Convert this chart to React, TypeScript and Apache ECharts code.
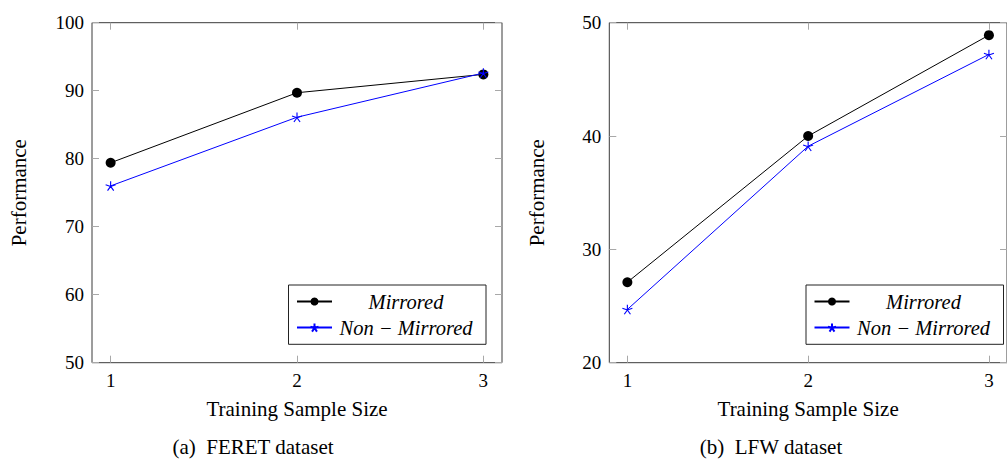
import React, { useEffect, useRef } from "react";
import * as echarts from "echarts";

const xTicks = [1, 2, 3];
const feretMirrored = [79.4, 89.7, 92.4];
const feretNonMirrored = [76.0, 86.1, 92.6];
const lfwMirrored = [27.1, 40.0, 48.9];
const lfwNonMirrored = [24.7, 39.1, 47.2];
const seriesNames = ["Mirrored", "Non \u2212 Mirrored"];
const captions = ["(a)  FERET dataset", "(b)  LFW dataset"];
const xName = "Training Sample Size";
const yName = "Performance";

const FONT = "Liberation Serif";
const STAR = "path://M0 0L0 -5M0 0L4.755 -1.545M0 0L2.939 4.045M0 0L-2.939 4.045M0 0L-4.755 -1.545";

export default function App() {
  const ref = useRef<HTMLDivElement>(null);
  useEffect(() => {
    if (!ref.current) return;
    const chart = echarts.init(ref.current, undefined, { renderer: "svg" });
    const toPts = (vals: number[]) => xTicks.map((x, i) => [x, vals[i]]);
    const grids = [
      { left: 92, top: 22.7, width: 410, height: 340 },
      { left: 609.3, top: 22.7, width: 410, height: 340 },
    ].map((g) => ({ ...g, show: true, borderColor: "#3a3a3a", borderWidth: 1, backgroundColor: "transparent" }));

    const tick = { show: true, inside: true, length: 7, customValues: xTicks, lineStyle: { color: "#a8a8a8", width: 1 } };
    const xAxisFor = (gi: number, pos: "bottom" | "top") => ({
      type: "value",
      gridIndex: gi,
      position: pos,
      min: 0.9,
      max: 3.1,
      axisLine: { show: false },
      axisTick: tick,
      splitLine: { show: false },
      axisLabel: pos === "bottom"
        ? { show: true, customValues: xTicks, fontSize: 19, fontFamily: FONT, color: "#000", margin: 8 }
        : { show: false },
      name: pos === "bottom" ? xName : "",
      nameLocation: "middle",
      nameGap: 36,
      nameTextStyle: { fontSize: 21, fontFamily: FONT, color: "#000" },
    });
    const yAxisFor = (gi: number, pos: "left" | "right", min: number, max: number, gap: number) => ({
      type: "value",
      gridIndex: gi,
      position: pos,
      min,
      max,
      interval: 10,
      axisLine: { show: false },
      axisTick: { show: true, inside: true, length: 7, lineStyle: { color: "#a8a8a8", width: 1 } },
      splitLine: { show: false },
      axisLabel: pos === "left"
        ? { show: true, fontSize: 19, fontFamily: FONT, color: "#000", margin: 8 }
        : { show: false },
      name: pos === "left" ? yName : "",
      nameLocation: "middle",
      nameGap: gap,
      nameTextStyle: { fontSize: 21, fontFamily: FONT, color: "#000" },
    });

    const mk = (name: string, data: number[], xi: number, yi: number, star: boolean) => ({
      type: "line",
      name,
      xAxisIndex: xi,
      yAxisIndex: yi,
      data: toPts(data),
      symbol: star ? STAR : "circle",
      symbolSize: star ? [10, 9.5] : 10,
      color: star ? "#0000ff" : "#000000",
      lineStyle: { width: 1, color: star ? "#0000ff" : "#000000" },
      itemStyle: star
        ? { color: "#0000ff", borderColor: "#0000ff", borderWidth: 1.1 }
        : { color: "#000000", borderWidth: 0 },
      emphasis: { disabled: true },
      z: star ? 3 : 2,
    });

    const legendFor = (left: number) => ({
      left,
      top: 285,
      orient: "vertical",
      data: seriesNames,
      selectedMode: false,
      itemWidth: 35,
      itemHeight: 10,
      itemGap: 6.1,
      padding: [6.5, 11, 6.7, 7.5],
      borderColor: "#222",
      borderWidth: 1,
      backgroundColor: "#fff",
      formatter: (n: string) => `{t|${n}}`,
      textStyle: {
        fontFamily: FONT,
        fontStyle: "italic",
        fontSize: 20.5,
        color: "#000",
        rich: {
          t: { width: 138, align: "center", fontSize: 20.5, fontStyle: "italic", fontFamily: FONT, lineHeight: 24, color: "#000" },
        },
      },
    });

    chart.setOption({
      animation: false,
      backgroundColor: "#fff",
      grid: grids,
      xAxis: [xAxisFor(0, "bottom"), xAxisFor(0, "top"), xAxisFor(1, "bottom"), xAxisFor(1, "top")],
      yAxis: [
        yAxisFor(0, "left", 50, 100, 63),
        yAxisFor(0, "right", 50, 100, 63),
        yAxisFor(1, "left", 20, 50, 62),
        yAxisFor(1, "right", 20, 50, 62),
      ],
      legend: [legendFor(288.5), legendFor(806)],
      series: [
        mk(seriesNames[0], feretMirrored, 0, 0, false),
        mk(seriesNames[1], feretNonMirrored, 0, 0, true),
        mk(seriesNames[0], lfwMirrored, 2, 2, false),
        mk(seriesNames[1], lfwNonMirrored, 2, 2, true),
      ],
      graphic: [
        { type: "text", x: 253, y: 447, style: { text: captions[0], align: "center", verticalAlign: "middle", fontSize: 21, fontFamily: FONT, fill: "#000" } },
        { type: "text", x: 771, y: 447, style: { text: captions[1], align: "center", verticalAlign: "middle", fontSize: 21, fontFamily: FONT, fill: "#000" } },
      ],
    });
    return () => chart.dispose();
  }, []);
  return <div ref={ref} style={{ position: "absolute", left: 0, top: 0, width: 1007, height: 459 }} />;
}
